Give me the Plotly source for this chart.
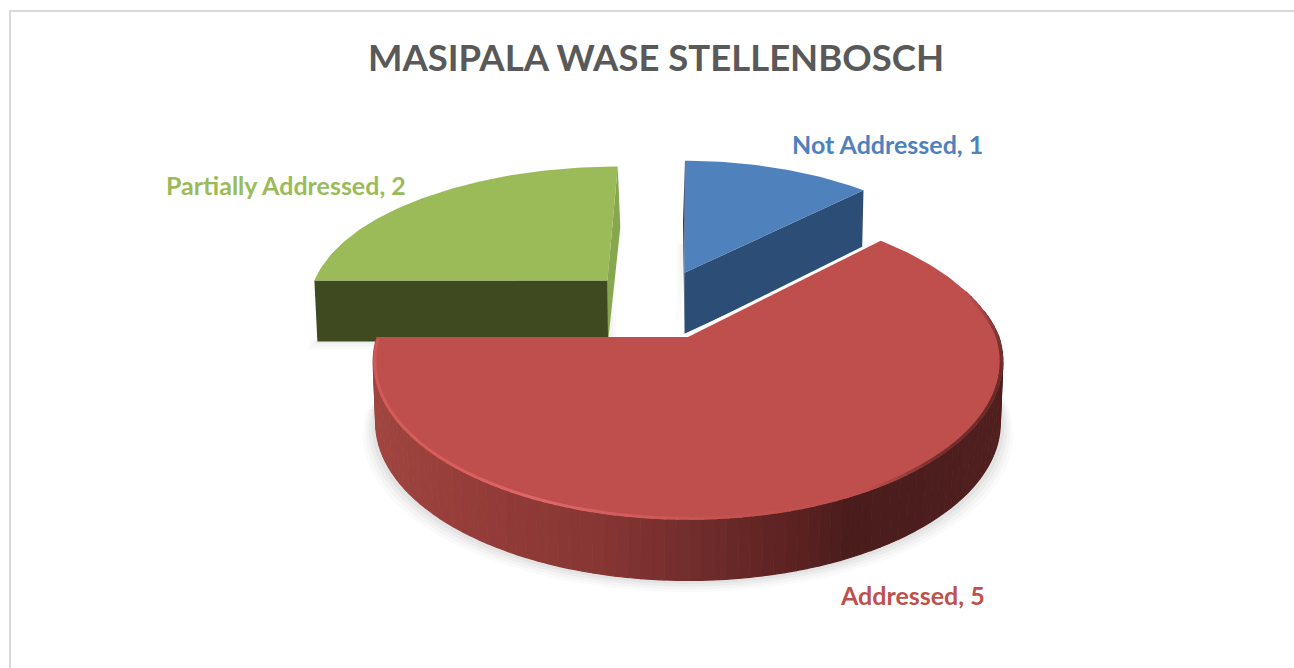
import numpy as np
import plotly.graph_objects as go

# ---- data ----
categories = ["Not Addressed", "Addressed", "Partially Addressed"]
values = [1, 5, 2]
title_text = "MASIPALA WASE STELLENBOSCH"

# ---- styling ----
top_colors = ["#4F81BD", "#BE4F4D", "#9BBB59"]
side_colors = ["#2C4D75", "#7A2E2E", "#404A20"]
sliver_colors = ["#24405F", "#7A2E2E", "#86A74D"]
label_colors = ["#4F81BD", "#C0504D", "#9BBB59"]
label_pos = [(887, 144), (912, 595), (286, 185)]
explode = [(-0.012, 0.452), (0.0, 0.0), (-0.275, 0.393)]
CX, CY, A, B, K, KX, DEPTH = 688.0, 337.0, 311.0, 154.0, 0.156, 0.20, 61.0
REAR = 0.936

W_STOPS_X = [376, 480, 600, 700, 800, 850, 1005]
W_STOPS_C = [(160, 69, 64), (148, 60, 56), (134, 54, 51), (112, 44, 44),
             (90, 33, 32), (74, 28, 28), (80, 31, 31)]


def project_pq(p, q, z=0.0):
    p = np.asarray(p, dtype=float)
    q = np.asarray(q, dtype=float)
    qp = np.where(q > 0, q, 0.0)
    wx = np.where(p > 0, 1 / (1 + KX * qp + K * (q - qp)), 1 / (1 + K * q))
    q2 = np.where(q > 1, 0.97 + (q - 1) * REAR, np.where(q > 0, q * (1 - 0.03 * q), q))
    w = 1 / (1 + K * q2)
    shrink = 1 - 0.008 * (z / DEPTH)
    return CX + A * p * wx * shrink, CY - B * q2 * w + z


def proj(theta, off=(0, 0), z=0.0, scale=1.0):
    t = np.radians(np.asarray(theta, dtype=float))
    return project_pq(np.sin(t) * scale + off[0], np.cos(t) * scale + off[1], z)


def poly(fig, xs, ys, color, edge=0):
    fig.add_trace(go.Scatter(x=list(xs), y=list(ys), mode="lines", fill="toself",
                             fillcolor=color, line=dict(width=edge, color=color),
                             hoverinfo="skip", showlegend=False))


def line(fig, xs, ys, color, width):
    fig.add_trace(go.Scatter(x=list(xs), y=list(ys), mode="lines",
                             line=dict(width=width, color=color),
                             hoverinfo="skip", showlegend=False))


def rgb(c):
    return "rgb(%d,%d,%d)" % tuple(int(round(v)) for v in c)


def wall_color(x):
    return tuple(np.interp(x, W_STOPS_X, [c[i] for c in W_STOPS_C]) for i in range(3))


total = sum(values)
sweeps = [v / total * 360 for v in values]
starts = np.cumsum([0] + sweeps[:-1])
arcs = [np.linspace(s, s + d, max(int(d), 12)) for s, d in zip(starts, sweeps)]

fig = go.Figure()

# soft shadows
red_arc = np.linspace(80, starts[1] + sweeps[1], 120)
bx, by = proj(red_arc, explode[1], DEPTH)
for grow, alpha in [(13, 0.018), (10, 0.022), (7, 0.03), (4, 0.035)]:
    sx = CX + (bx - CX) * (1 + grow / 311)
    sy = by + grow * 0.9
    poly(fig, np.r_[sx, CX], np.r_[sy, by[0]], "rgba(0,0,0,%.3f)" % alpha)
for i in (0, 2):
    ax, ay = proj(arcs[i], explode[i], DEPTH)
    ox, oy = project_pq(explode[i][0], explode[i][1], DEPTH)
    for grow, alpha in [(8, 0.02), (5, 0.025), (2, 0.03)]:
        if i == 0:
            poly(fig, [ox - grow, ox - grow, ox], [oy, oy - 90, oy - 90], "rgba(0,0,0,%.3f)" % alpha)
        else:
            poly(fig, np.r_[ox, ax[:1] - grow, ax[:1] - grow, ox + grow, ox + grow],
                 np.r_[oy + grow, ay[:1] + grow, ay[:1], oy - 90, oy + grow],
                 "rgba(0,0,0,%.3f)" % alpha)

# exploded slices: cut faces under their top faces
for i in (2, 0):
    ox0, oy0 = project_pq(explode[i][0], explode[i][1], 0)
    ox1, oy1 = project_pq(explode[i][0], explode[i][1], DEPTH)
    ex0, ey0 = proj(arcs[i][[0, -1]], explode[i], 0)
    ex1, ey1 = proj(arcs[i][[0, -1]], explode[i], DEPTH)
    if i == 2:
        poly(fig, [ox0, ex0[1], ex1[1] + 2, ox1], [oy0, ey0[1], ey1[1], oy1], sliver_colors[i])
        poly(fig, [ox0, ex0[0], ex1[0], ox1], [oy0, ey0[0], ey1[0], oy1], side_colors[i])
    else:
        poly(fig, [ox0, ex0[0], ex1[0] - 2, ox1], [oy0, ey0[0], ey1[0], oy1], sliver_colors[i])
        poly(fig, [ox0, ex0[1], ex1[1], ox1], [oy0, ey0[1], ey1[1], oy1], side_colors[i])
    ax, ay = proj(arcs[i], explode[i], 0)
    poly(fig, np.r_[ox0, ax], np.r_[oy0, ay], top_colors[i])

# big slice: outer wall as shaded strips
edges = np.linspace(80, starts[1] + sweeps[1], 100)
for t0, t1 in zip(edges[:-1], edges[1:]):
    tt = np.array([t0, t1])
    x0, y0 = proj(tt, explode[1], 0)
    x1, y1 = proj(tt, explode[1], DEPTH)
    c = rgb(wall_color(x0.mean()))
    poly(fig, [x0[0], x0[1], x1[1], x1[0]], [y0[0], y0[1], y1[1], y1[0]], c, edge=1.2)

# top face
ax, ay = proj(arcs[1], explode[1], 0)
ox0, oy0 = project_pq(explode[1][0], explode[1][1], 0)
line(fig, [ox0 - 1, ax[0]], [oy0 - 1, ay[0] - 1], "#ffffff", 4)
poly(fig, np.r_[ox0, ax], np.r_[oy0, ay], top_colors[1])

# bevel along the rim
rim_t = [72, 92, 110, 135, 150, 175, 205, 225, 250, 270]
rim_c = [(190, 79, 77), (120, 50, 48), (100, 40, 38), (120, 48, 46), (190, 79, 77),
         (196, 82, 80), (224, 104, 104), (216, 94, 92), (212, 90, 88), (206, 86, 84)]
seg = np.linspace(72, 269, 100)
for t0, t1 in zip(seg[:-1], seg[1:]):
    tt = np.array([t0, t1 + 0.4])
    x, y = proj(tt, (0, 0), 0, scale=0.995)
    tm = (t0 + t1) / 2
    c = tuple(np.interp(tm, rim_t, [v[j] for v in rim_c]) for j in range(3))
    line(fig, x, y, rgb(c), 3)

# labels
annotations = []
for name, val, col, (lx, ly) in zip(categories, values, label_colors, label_pos):
    annotations.append(dict(x=lx, y=ly, xref="x", yref="y", showarrow=False,
                            text="<b>%s, %d</b>" % (name, val),
                            font=dict(family="Lato", size=25, color=col),
                            xanchor="center", yanchor="middle"))

fig.update_layout(
    width=1294, height=668, margin=dict(l=0, r=0, t=0, b=0),
    paper_bgcolor="#ffffff", plot_bgcolor="#ffffff", showlegend=False,
    title=dict(text="<b>%s</b>" % title_text, x=656 / 1294, y=1 - 58 / 668,
               xanchor="center", yanchor="middle",
               font=dict(family="Lato", size=36.5, color="#595959")),
    annotations=annotations,
    xaxis=dict(range=[0, 1294], visible=False, fixedrange=True),
    yaxis=dict(range=[668, 0], visible=False, fixedrange=True),
    shapes=[
        dict(type="line", xref="x", yref="y", x0=10, x1=1294, y0=11, y1=11,
             line=dict(color="#d9d9d9", width=2)),
        dict(type="line", xref="x", yref="y", x0=10, x1=10, y0=10, y1=668,
             line=dict(color="#d9d9d9", width=2)),
    ],
)
fig.write_html("out.html", config=dict(displayModeBar=False),
               post_script="document.body.style.margin='0';document.documentElement.style.overflow='hidden';")
